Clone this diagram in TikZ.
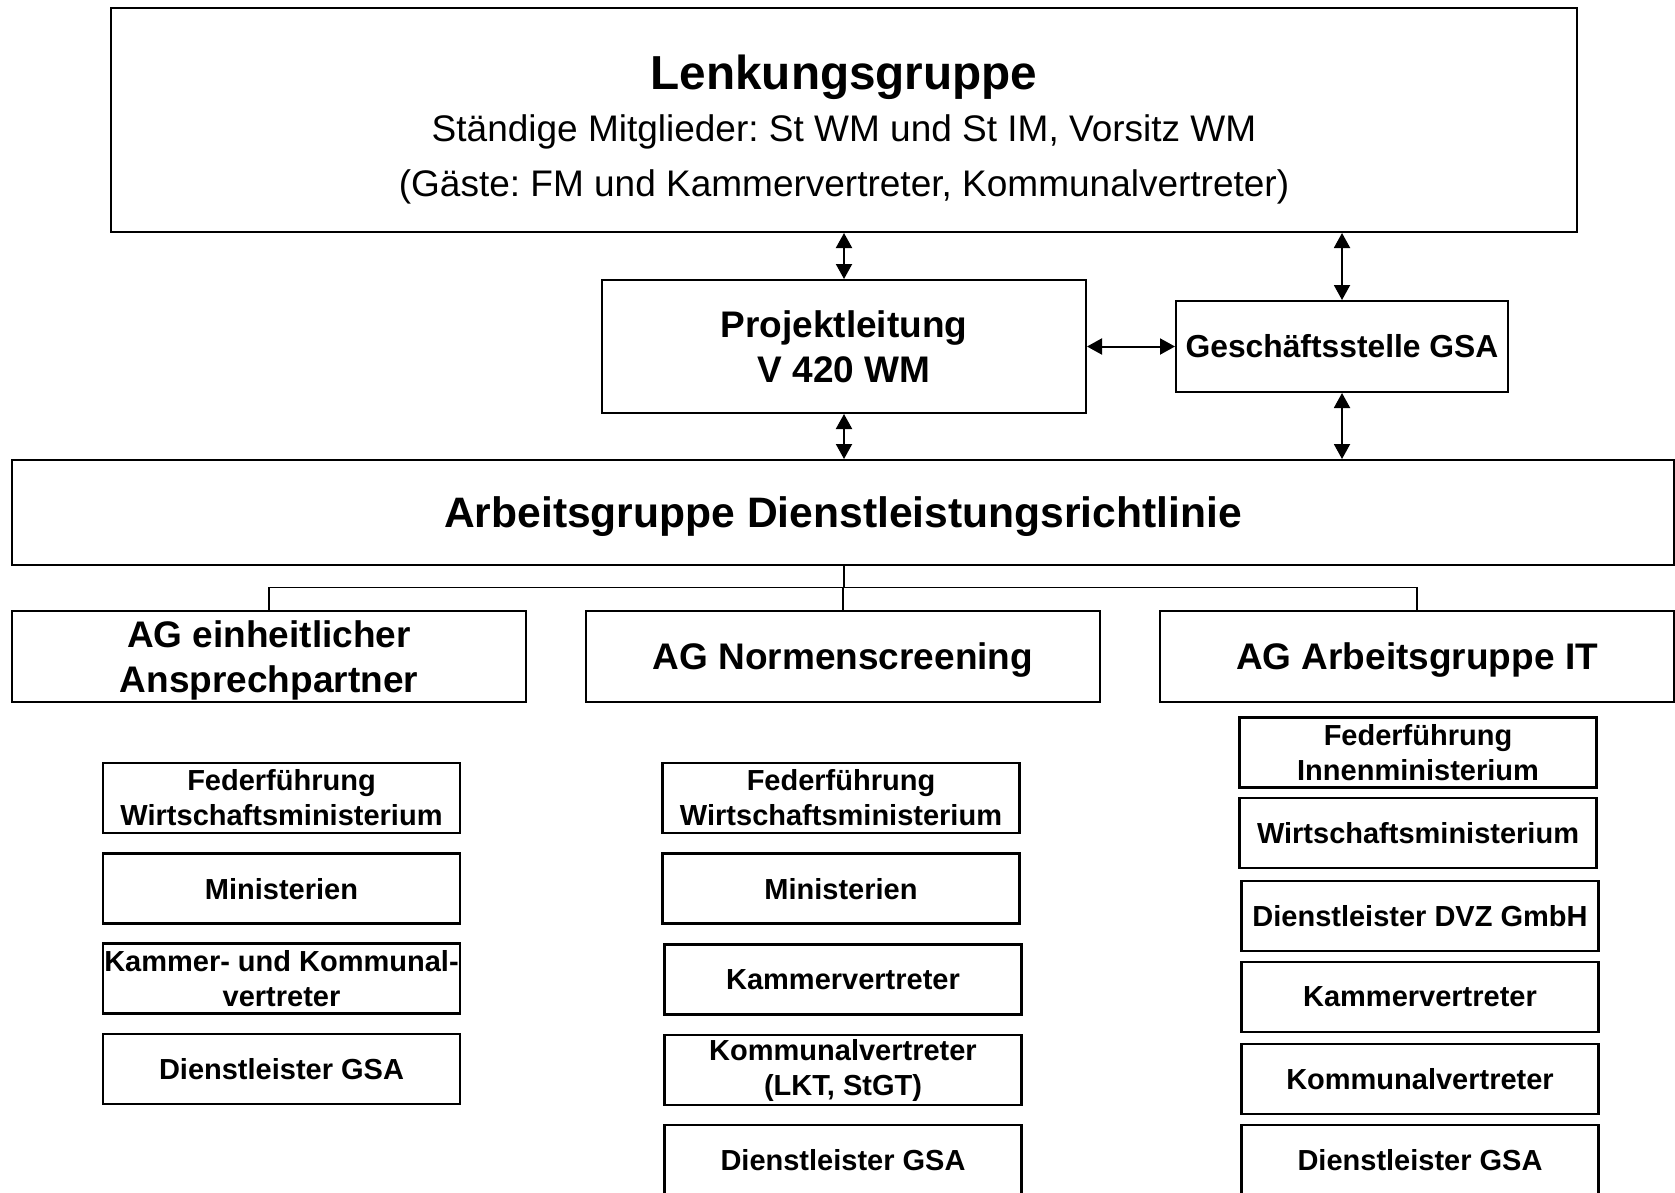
\documentclass[tikz,border=0pt]{standalone}
\usepackage{fontspec}
\setmainfont{Liberation Sans}
\usepackage{tikz}
\usetikzlibrary{arrows.meta}

\tikzset{
  box/.style={draw, line width=2pt, inner sep=0pt, align=center},
  agbox/.style={box, minimum width=514pt, minimum height=91pt, text depth=0pt, font=\fontsize{37}{45}\selectfont\bfseries},
  smallbox/.style={draw, line width=2.7pt, inner sep=0pt, minimum width=357pt, minimum height=70pt, align=center, font=\fontsize{29}{35}\selectfont\bfseries},
  twoway/.style={line width=2pt, {Triangle[length=15pt,width=16pt]}-{Triangle[length=15pt,width=16pt]}},
  tree/.style={line width=1.6pt}
}

\begin{document}
\frenchspacing
\begin{tikzpicture}[x=1pt,y=-1pt]
    \useasboundingbox (0,0) rectangle (1675,1192);
    \clip (0,0) rectangle (1675,1192);

    % top level
    \node [box, minimum width=1466pt, minimum height=224pt] (lenk) at (844,120) {};
    \node [anchor=base, font=\fontsize{47.7}{50}\selectfont\bfseries] (lenktitle) at (844,89) {Lenkungsgruppe};
    \node [anchor=base, font=\fontsize{37}{40}\selectfont] (lenkmembers) at (844,141) {St\"andige Mitglieder: St WM und St IM, Vorsitz WM};
    \node [anchor=base, font=\fontsize{37}{40}\selectfont] (lenkguests) at (844,196) {(G\"aste: FM und Kammervertreter, Kommunalvertreter)};

    \node [box, minimum width=484pt, minimum height=133pt, font=\fontsize{37}{45}\selectfont\bfseries] (proj) at (844,346.5) {Projektleitung\\V 420 WM};
    \node [box, minimum width=332pt, minimum height=91pt, font=\fontsize{31.8}{36}\selectfont\bfseries] (gs) at (1342,346.5) {Gesch\"aftsstelle GSA};

    \node [box, minimum width=1662pt, minimum height=105pt, text depth=0pt, font=\fontsize{42.6}{46}\selectfont\bfseries] (agdl) at (843,512.5) {Arbeitsgruppe Dienstleistungsrichtlinie};

    \draw [twoway] (lenk.south) -- (proj.north);
    \draw [twoway] (proj.south) -- (agdl.north -| proj.south);
    \draw [twoway] (gs.north |- lenk.south) -- (gs.north);
    \draw [twoway] (gs.south) -- (agdl.north -| gs.south);
    \draw [twoway] (proj.east) -- (gs.west);

    % working groups
    \node [agbox] (agea) at (269,656.5) {AG einheitlicher\\Ansprechpartner};
    \node [agbox] (agns) at (843,656.5) {AG Normenscreening};
    \node [agbox] (agit) at (1417,656.5) {AG Arbeitsgruppe IT};

    \coordinate (fork) at (844,587.5);
    \draw [tree] (agdl.south -| fork) -- (fork);
    \draw [tree] (agea.north) |- (fork) -| (agit.north);
    \draw [tree] (agns.north) -- (agns.north |- fork);

    % members AG einheitlicher Ansprechpartner
    \node [smallbox] (ea1) at (281.5,798) {Federf\"uhrung\\Wirtschaftsministerium};
    \node [smallbox] (ea2) at (281.5,888.7) {Ministerien};
    \node [smallbox] (ea3) at (281.5,978.5) {Kammer- und Kommunal-\\vertreter};
    \node [smallbox] (ea4) at (281.5,1069) {Dienstleister GSA};

    % members AG Normenscreening
    \node [smallbox] (ns1) at (841,798) {Federf\"uhrung\\Wirtschaftsministerium};
    \node [smallbox] (ns2) at (841,888.7) {Ministerien};
    \node [smallbox] (ns3) at (843,979.5) {Kammervertreter};
    \node [smallbox] (ns4) at (843,1070) {Kommunalvertreter\\(LKT, StGT)};
    \node [smallbox] (ns5) at (843,1160) {Dienstleister GSA};

    % members AG Arbeitsgruppe IT
    \node [smallbox] (it1) at (1418,752.5) {Federf\"uhrung\\Innenministerium};
    \node [smallbox] (it2) at (1418,833) {Wirtschaftsministerium};
    \node [smallbox] (it3) at (1420,916) {Dienstleister DVZ GmbH};
    \node [smallbox] (it4) at (1420,997) {Kammervertreter};
    \node [smallbox] (it5) at (1420,1079) {Kommunalvertreter};
    \node [smallbox] (it6) at (1420,1160) {Dienstleister GSA};
\end{tikzpicture}
\end{document}
